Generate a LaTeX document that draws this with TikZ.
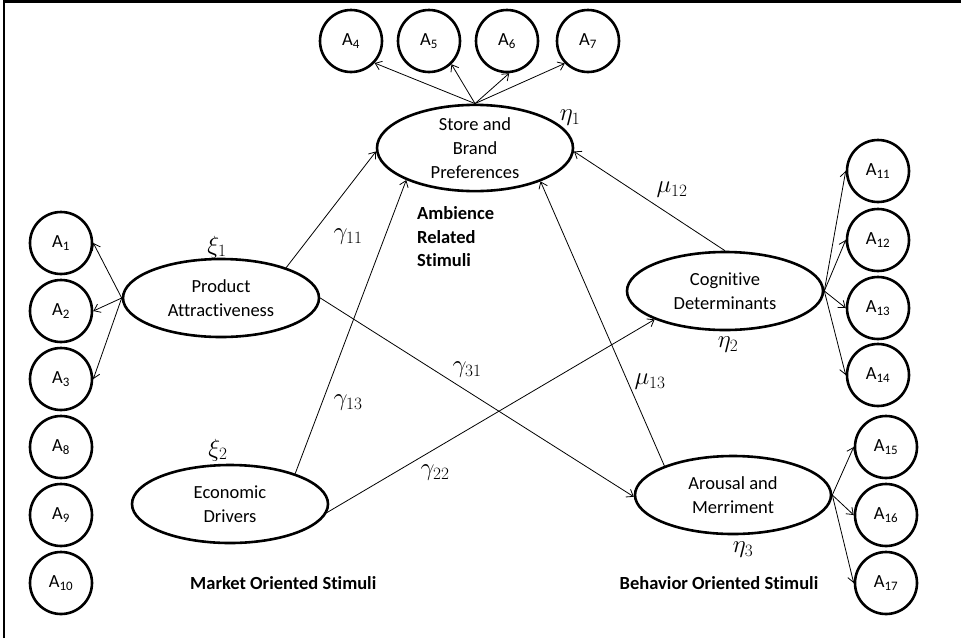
\documentclass[tikz,border=0pt]{standalone}
\usepackage[no-math]{fontspec}
\setmainfont{Carlito}[Ligatures=NoCommon]
\usetikzlibrary{shapes.geometric,arrows.meta}
\tikzset{
  lat/.style={ellipse, draw, line width=2.6pt, minimum width=196pt, minimum height=78pt,
    inner sep=0pt, align=center, font=\fontsize{18.5}{24}\selectfont},
  ind/.style={circle, draw, line width=2.6pt, minimum size=62pt, inner sep=0pt,
    font=\fontsize{18.5}{22}\selectfont},
  arr/.style={-{Straight Barb[length=6pt,width=9pt]}, line width=0.8pt},
  lbl/.style={font=\fontsize{24}{28}\selectfont, inner sep=0pt},
  grp/.style={font=\fontsize{18.5}{23.5}\selectfont\bfseries, align=left, inner sep=0pt},
}
\begin{document}
\begin{tikzpicture}[x=1pt,y=-1pt]
\useasboundingbox (0,0) rectangle (961,638);
\draw[line width=2.5pt] (4,638) -- (4,1.5) -- (961,1.5);

% latent variables
\node[lat] (store) at (475,148) {Store and\\Brand\\Preferences};
\node[lat] (prod)  at (221,298) {Product\\Attractiveness};
\node[lat] (econ)  at (230,504) {Economic\\Drivers};
\node[lat] (cog)   at (725,291) {Cognitive\\Determinants};
\node[lat] (arous) at (733,495) {Arousal and\\Merriment};

% indicators
\foreach \n/\x/\y in {4/351/41,5/429/41,6/507/41,7/588/41,
  1/61/243,2/61/311,3/61/379,8/61/447,9/61/515,10/61/583,
  11/878/171,12/878/240,13/878/308,14/878/375,
  15/886/447,16/886/515,17/886/583}
  \node[ind] (A\n) at (\x,\y) {A\textsubscript{\n}};

% measurement arrows
\draw[arr] (store.north) -- (A4.-43);
\draw[arr] (store.north) -- (A5.-46);
\draw[arr] (store.north) -- (A6.-86);
\draw[arr] (store.north) -- (A7.224);
\foreach \t in {1,2,3} \draw[arr] (prod.west) -- (A\t.east);
\foreach \t in {11,12,13,14} \draw[arr] (cog.east) -- (A\t.west);
\foreach \t in {15,16,17} \draw[arr] (arous.east) -- (A\t.west);

% structural arrows
\draw[arr] (prod.25) -- (store.182);
\draw[arr] (econ.25) -- (store.205);
\draw[arr] (prod.east) -- (arous.181);
\draw[arr] (econ.-5) -- (cog.202);
\draw[arr] (cog.north) -- (store.358);
\draw[arr] (arous.157) -- (store.333);

% greek labels
\node[lbl] (eta1) at (570,118) {$\eta_1$};
\node[lbl] (xi1)  at (217,247) {$\xi_1$};
\node[lbl] (xi2)  at (218,450) {$\xi_2$};
\node[lbl] (g11)  at (348,237) {$\gamma_{11}$};
\node[lbl] (g13)  at (348,403) {$\gamma_{13}$};
\node[lbl] (g31)  at (467,370) {$\gamma_{31}$};
\node[lbl] (g22)  at (435,473) {$\gamma_{22}$};
\node[lbl] (m12)  at (672,190) {$\mu_{12}$};
\node[lbl] (m13)  at (650,382) {$\mu_{13}$};
\node[lbl] (eta2) at (728,345) {$\eta_2$};
\node[lbl] (eta3) at (743,550) {$\eta_3$};

% group labels
\node[grp, anchor=west] (amb) at (417,237) {Ambience\\Related\\Stimuli};
\node[grp, anchor=west] (mkt) at (190,583) {Market Oriented Stimuli};
\node[grp] (beh) at (719,583) {Behavior Oriented Stimuli};
\end{tikzpicture}
\end{document}
